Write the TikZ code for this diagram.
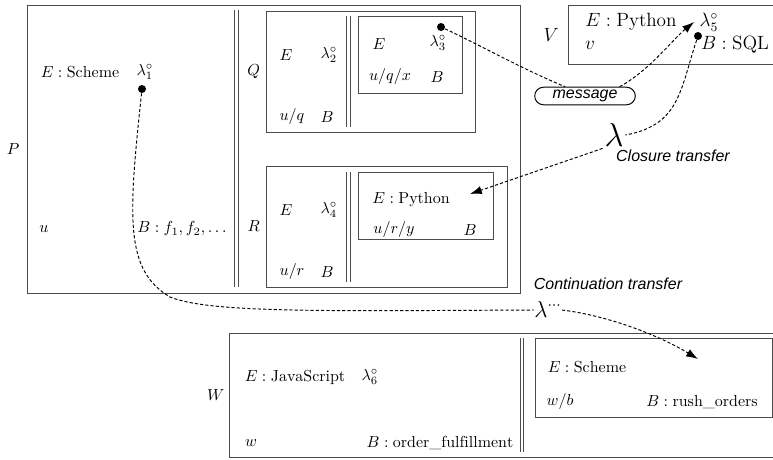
\documentclass[tikz,border=0pt]{standalone}
\usepackage{fontspec}
\setsansfont{Liberation Sans}
\usetikzlibrary{arrows.meta, positioning, fit, shapes.misc}

\begin{document}
\begin{tikzpicture}[
        x=0.022cm, y=-0.022cm,
        procBox/.style={
            draw=black!70,
            line width=0.6pt,
            inner sep=0pt
        },
        parLine/.style={
            draw=black!70,
            double,
            double distance=1.8pt,
            line width=0.5pt
        },
        dot/.style={
            circle,
            fill=black,
            inner sep=0pt,
            minimum size=5pt
        },
        msgNode/.style={
            draw,
            rounded rectangle,
            line width=0.6pt,
            minimum width=65pt,
            minimum height=11pt,
            inner sep=1pt,
            font=\sffamily\itshape
        },
        flow/.style={
            dash pattern=on 2pt off 1.3pt,
            line width=0.6pt
        },
        flowArrow/.style={
            flow,
            -{Latex[length=2.6mm, width=1.8mm]}
        },
        note/.style={
            font=\sffamily\itshape
        },
        bigText/.style={
            font=\large
        }
    ]

        \useasboundingbox (0,0) rectangle (773,460);

        % Process boxes
        \node[procBox, fit={(27,5) (520,293)}] (P) {};
        \node[procBox, fit={(266,11) (475,132)}] (Q) {};
        \node[procBox, fit={(358,16) (462,93)}] (Qin) {};
        \node[procBox, fit={(266,166) (507,287)}] (R) {};
        \node[procBox, fit={(358,172) (493,239)}] (Rin) {};
        \node[procBox, fit={(568,5) (790,64)}] (V) {};
        \node[procBox, fit={(229,333) (790,457)}] (W) {};
        \node[procBox, fit={(535,338) (772,417)}] (Win) {};

        % Box names
        \node[left=1pt of P] (Pname) {$P$};
        \node[left=0pt of Q] (Qname) {$Q$};
        \node[left=0pt of R] (Rname) {$R$};
        \node[bigText, left=2pt of V] (Vname) {$V$};
        \node[left=-1pt of W] (Wname) {$W$};

        % Parallel composition bars
        \foreach \xx/\ya/\yb in {236.5/10/287, 348.5/16/127, 348.5/172/282, 522/338/452}
        {
            \draw[parLine] (\xx,\ya) -- (\xx,\yb);
        }

        % Contents of P
        \node (pEnv) at (80,72) {$E:\mathrm{Scheme}$};
        \node (pLam) at (145,72) {$\lambda_1^\circ$};
        \node[dot] (dot1) at (142,89) {};
        \node (pU) at (44,229) {$u$};
        \node (pB) at (182,229) {$B:f_1,f_2,\ldots$};

        % Contents of Q
        \node (qEnv) at (286,55) {$E$};
        \node (qLam) at (329,55) {$\lambda_2^\circ$};
        \node (qU) at (292,117) {$u/q$};
        \node (qB) at (327,117) {$B$};
        \node (qxEnv) at (379,44) {$E$};
        \node (qxLam) at (438,43) {$\lambda_3^\circ$};
        \node[dot] (dot3) at (441,27) {};
        \node (qxU) at (390,77) {$u/q/x$};
        \node (qxB) at (437,77) {$B$};

        % Contents of R
        \node (rEnv) at (286,210) {$E$};
        \node (rLam) at (329,210) {$\lambda_4^\circ$};
        \node (rU) at (292,272) {$u/r$};
        \node (rB) at (327,272) {$B$};
        \node (ryEnv) at (411,200) {$E:\mathrm{Python}$};
        \node (ryU) at (394,230) {$u/r/y$};
        \node (ryB) at (470,230) {$B$};
        \coordinate (closureEnd) at (470,194);

        % Contents of V
        \node[bigText] (vEnv) at (631,22) {$E:\mathrm{Python}$};
        \node[bigText] (vLam) at (709,22) {$\lambda_5^\circ$};
        \node[bigText] (vU) at (590,45) {$v$};
        \node[dot] (dot5) at (698,36) {};
        \node[bigText] (vB) at (735,45) {$B:\mathrm{SQL}$};

        % Contents of W
        \node (wEnv) at (295,377) {$E:\mathrm{JavaScript}$};
        \node (wLam) at (370,377) {$\lambda_6^\circ$};
        \node (wU) at (251,443) {$w$};
        \node (wB) at (440,443) {$B:\mathrm{order\_fulfillment}$};
        \node (wbEnv) at (587,367) {$E:\mathrm{Scheme}$};
        \node (wbU) at (560,402) {$w/b$};
        \node (wbB) at (702,402) {$B:\mathrm{rush\_orders}$};
        \coordinate (contEnd) at (698,359);

        % Message between Q and V
        \node[msgNode] (msg) at (585,96) {message};
        \draw[flow] (dot3) .. controls (480,45) and (520,68) .. (msg.155);
        \draw[flowArrow] (msg.15) .. controls (650,70) and (672,40) .. (vLam.west);

        % Closure transfer
        \node[inner sep=1pt, font=\huge] (lamB) at (614,135) {$\lambda$};
        \node[note] (closureTxt) at (673,156) {Closure transfer};
        \draw[flow] (dot5) .. controls (680,90) and (680,125) .. (lamB.east);
        \draw[flowArrow] (lamB.south west) -- (closureEnd);

        % Continuation transfer
        \node[inner sep=0pt, font=\Large] (lamC) at (548,310) {$\lambda^{\cdots}$};
        \node[note] (contTxt) at (608,284) {Continuation transfer};
        \draw[flow] (dot1) .. controls (128,220) and (125,270) .. (170,297)
            .. controls (210,313) and (320,311) .. (lamC.west);
        \draw[flowArrow] (lamC.east) .. controls (610,316) and (660,336) .. (contEnd);

    \end{tikzpicture}
\end{document}
